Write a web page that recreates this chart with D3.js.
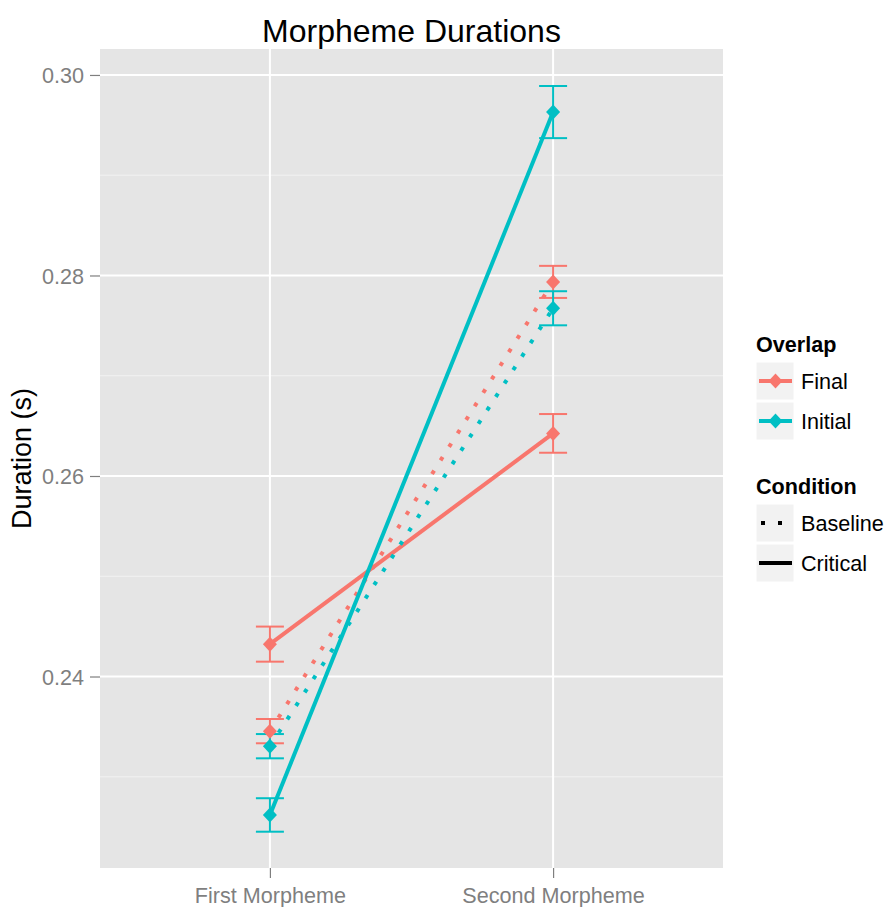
<!DOCTYPE html>
<html>
<head>
<meta charset="utf-8">
<script src="https://cdn.jsdelivr.net/npm/d3@7"></script>
<style>
  body { margin: 0; background: #fff; }
  text { font-family: 'Liberation Sans', Arial, sans-serif; }
</style>
</head>
<body>
<div id="chart"></div>
<script>
// data
var categories = ['First Morpheme', 'Second Morpheme']
var overlaps = ['Final', 'Initial']
var conditions = ['Baseline', 'Critical']
var yTicks = [0.24, 0.26, 0.28, 0.30]
var yMinor = [0.23, 0.25, 0.27, 0.29]

var finalBaselineMean = [0.23455, 0.27936]
var finalBaselineSe = [0.00121, 0.0016]
var finalCriticalMean = [0.24323, 0.26425]
var finalCriticalSe = [0.00175, 0.00193]
var initialBaselineMean = [0.23305, 0.27673]
var initialBaselineSe = [0.00121, 0.0017]
var initialCriticalMean = [0.22619, 0.2963]
var initialCriticalSe = [0.00167, 0.0026]

var colors = { Final: '#F8766D', Initial: '#00BFC4' }

var series = [
  { overlap: 'Final', condition: 'Baseline', mean: finalBaselineMean, se: finalBaselineSe },
  { overlap: 'Final', condition: 'Critical', mean: finalCriticalMean, se: finalCriticalSe },
  { overlap: 'Initial', condition: 'Baseline', mean: initialBaselineMean, se: initialBaselineSe },
  { overlap: 'Initial', condition: 'Critical', mean: initialCriticalMean, se: initialCriticalSe }
]

var margin = { top: 49, left: 100, right: 162, bottom: 39 }
var width = 885 - margin.left - margin.right
var height = 907 - margin.top - margin.bottom

var root = d3
  .select('#chart')
  .append('svg')
  .attr('width', 885)
  .attr('height', 907)

var svg = root
  .append('g')
  .attr('transform', 'translate(' + margin.left + ',' + margin.top + ')')

var xScale = d3.scalePoint().domain(categories).range([0, width]).padding(0.6)
var yScale = d3.scaleLinear().domain([0.2209, 0.30259]).range([height, 0])

// panel
svg.append('rect')
  .attr('width', width)
  .attr('height', height)
  .attr('fill', '#E5E5E5')

svg.selectAll('.minor')
  .data(yMinor)
  .enter()
  .append('line')
  .attr('x1', 0)
  .attr('x2', width)
  .attr('y1', d => yScale(d))
  .attr('y2', d => yScale(d))
  .attr('stroke', '#F2F2F2')
  .attr('stroke-width', 1)

svg.selectAll('.hgrid')
  .data(yTicks)
  .enter()
  .append('line')
  .attr('x1', 0)
  .attr('x2', width)
  .attr('y1', d => yScale(d))
  .attr('y2', d => yScale(d))
  .attr('stroke', '#fff')
  .attr('stroke-width', 2)

svg.selectAll('.vgrid')
  .data(categories)
  .enter()
  .append('line')
  .attr('x1', d => xScale(d))
  .attr('x2', d => xScale(d))
  .attr('y1', 0)
  .attr('y2', height)
  .attr('stroke', '#fff')
  .attr('stroke-width', 2)

// axes
var yAxis = svg.append('g')
  .call(d3.axisLeft(yScale).tickValues(yTicks).tickFormat(d3.format('.2f')).tickSize(10).tickPadding(6))
var xAxis = svg.append('g')
  .attr('transform', 'translate(0,' + height + ')')
  .call(d3.axisBottom(xScale).tickSize(10).tickPadding(6))

;[yAxis, xAxis].forEach(function(ax) {
  ax.select('.domain').remove()
  ax.selectAll('line').attr('stroke', '#7F7F7F').attr('stroke-width', 1.2)
  ax.selectAll('text')
    .attr('fill', '#7F7F7F')
    .attr('font-size', 21.6)
    .attr('font-family', "'Liberation Sans', Arial, sans-serif")
})
yAxis.selectAll('text').attr('dy', '0.35em')
xAxis.selectAll('text').attr('dy', '0.9em')

// error bars
series.forEach(function(s) {
  var g = svg.append('g').attr('stroke', colors[s.overlap]).attr('stroke-width', 2)
  categories.forEach(function(c, i) {
    var x = xScale(c)
    var lo = yScale(s.mean[i] - s.se[i])
    var hi = yScale(s.mean[i] + s.se[i])
    g.append('line').attr('x1', x).attr('x2', x).attr('y1', lo).attr('y2', hi)
    g.append('line').attr('x1', x - 14).attr('x2', x + 14).attr('y1', lo).attr('y2', lo)
    g.append('line').attr('x1', x - 14).attr('x2', x + 14).attr('y1', hi).attr('y2', hi)
  })
})

var line = d3.line()
  .x(function(d, i) { return xScale(categories[i]) })
  .y(function(d) { return yScale(d) })

series.forEach(function(s) {
  svg.append('path')
    .datum(s.mean)
    .attr('d', line)
    .attr('fill', 'none')
    .attr('stroke', colors[s.overlap])
    .attr('stroke-width', 4)
    .attr('stroke-dasharray', s.condition === 'Baseline' ? '4,12' : null)
})

var diamond = 'M0,-7.5L7,0L0,7.5L-7,0Z'

series.forEach(function(s) {
  svg.selectAll(null)
    .data(s.mean)
    .enter()
    .append('path')
    .attr('d', diamond)
    .attr('transform', (d, i) => 'translate(' + xScale(categories[i]) + ',' + yScale(d) + ')')
    .attr('fill', colors[s.overlap])
})

// title and axis label
root.append('text')
  .attr('x', margin.left + width / 2)
  .attr('y', 42)
  .attr('text-anchor', 'middle')
  .attr('font-size', 32)
  .text('Morpheme Durations')

root.append('text')
  .attr('transform', 'translate(31,' + (margin.top + height / 2) + ') rotate(-90)')
  .attr('text-anchor', 'middle')
  .attr('font-size', 27)
  .text('Duration (s)')

// legend
var legend = root.append('g').attr('transform', 'translate(756,0)')

function legendBlock(title, titleY, items, drawKey) {
  legend.append('text')
    .attr('x', 0)
    .attr('y', titleY)
    .attr('font-size', 21.6)
    .attr('font-weight', 'bold')
    .text(title)
  items.forEach(function(item, i) {
    var top = titleY + 10 + i * 40
    legend.append('rect')
      .attr('x', 0)
      .attr('y', top)
      .attr('width', 38)
      .attr('height', 38)
      .attr('fill', '#F2F2F2')
      .attr('stroke', '#fff')
      .attr('stroke-width', 1)
    drawKey(item, top + 19)
    legend.append('text')
      .attr('x', 45)
      .attr('y', top + 19)
      .attr('dy', '0.36em')
      .attr('font-size', 21.6)
      .text(item)
  })
}

legendBlock('Overlap', 352, overlaps, function(item, cy) {
  legend.append('line')
    .attr('x1', 3).attr('x2', 36).attr('y1', cy).attr('y2', cy)
    .attr('stroke', colors[item]).attr('stroke-width', 4)
  legend.append('path')
    .attr('d', diamond)
    .attr('transform', 'translate(19.5,' + cy + ')')
    .attr('fill', colors[item])
})

legendBlock('Condition', 494, conditions, function(item, cy) {
  legend.append('line')
    .attr('x1', item === 'Baseline' ? 5 : 3).attr('x2', 36).attr('y1', cy).attr('y2', cy)
    .attr('stroke', '#000').attr('stroke-width', 4)
    .attr('stroke-dasharray', item === 'Baseline' ? '4,13' : null)
})
</script>
</body>
</html>
